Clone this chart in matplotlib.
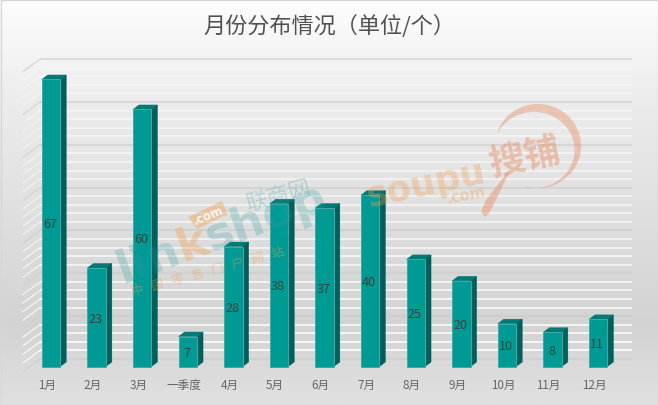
import numpy as np
import matplotlib
matplotlib.use("Agg")
import matplotlib.pyplot as plt
from matplotlib.patches import Polygon, Rectangle
from matplotlib.colors import LinearSegmentedColormap

plt.rcParams['font.family'] = ['Noto Sans CJK SC', 'DejaVu Sans']

categories = ['1月', '2月', '3月', '一季度', '4月', '5月', '6月', '7月', '8月', '9月', '10月', '11月', '12月']
values = [67, 23, 60, 7, 28, 38, 37, 40, 25, 20, 10, 8, 11]
title = '月份分布情况（单位/个）'
major_ticks = [0, 10, 20, 30, 40, 50, 60, 70]
minor_ticks = [v for v in range(2, 70, 2) if v % 10 != 0]

W, H = 658, 406
PX_X = 45.6        # pixels per category
PX_Y = 4.284       # pixels per value unit
X0, Y0 = 51, 367.5 # pixel of first category / value zero
DX, DY = 6 / PX_X, 4.5 / PX_Y      # bar depth in data units
BW = 18.5 / PX_X

fig = plt.figure(figsize=(W / 100, H / 100), dpi=100)

# background
bg = fig.add_axes([0, 0, 1, 1], zorder=0)
bg.set_axis_off()
cmap = LinearSegmentedColormap.from_list('bg', [(0, '#fdfdfd'), (0.25, '#ececec'), (0.80, '#d3d3d3'), (1, '#e0e0e0')])
yy = np.linspace(0, 1, 300)[:, None]
bg.imshow(yy, cmap=cmap, vmin=0, vmax=1, aspect='auto', extent=(0, 1, 1, 0))
bg.set_xlim(0, 1); bg.set_ylim(1, 0)

# chart axes, in data units
ax = fig.add_axes([0, 0, 1, 1], zorder=1)
ax.patch.set_alpha(0)
ax.set_xlim(-X0 / PX_X, (W - X0) / PX_X)
ax.set_ylim(-(H - Y0) / PX_Y, Y0 / PX_Y)
ax.set_axis_off()

# walls
wall_left = (40 - X0) / PX_X
wall_right = (632 - X0) / PX_X
wall_lift = 7.5 / PX_Y
side_left = (23 - X0) / PX_X
side_drop = -5 / PX_Y
for v in minor_ticks:
    a = 0.95 - 0.6 * v / 70
    ax.plot([wall_left, wall_right], [v + wall_lift] * 2, color='white', alpha=a, lw=1.2, zorder=1, solid_capstyle='butt')
    ax.plot([side_left, wall_left], [v + side_drop, v + wall_lift], color='white', alpha=a * .8, lw=1.0, zorder=1)
for v in major_ticks:
    ax.plot([wall_left, wall_right], [v + wall_lift] * 2, color='#cccccc', lw=1.5, alpha=.6, zorder=1.1, solid_capstyle='butt')
    ax.plot([side_left, wall_left], [v + side_drop, v + wall_lift], color='#cfcfcf', lw=1.0, alpha=.7, zorder=1.1)

# bars
x = np.arange(len(values))
ax.bar(x, values, width=BW, color='#009A94', edgecolor='#3FAAA6', linewidth=0.7, zorder=3)
for xi, v in zip(x, values):
    l, r = xi - BW / 2, xi + BW / 2
    ax.fill([l, r, r + DX, l + DX], [v, v, v + DY, v + DY], color='#007A76', lw=0.3, zorder=2.9)
    ax.fill([r, r + DX, r + DX, r], [0, DY, v + DY, v], color='#005F5C', lw=0.3, zorder=2.9)
    ax.text(xi - 1 / PX_X, v / 2 - 0.2, str(v), ha='center', va='center', fontsize=9, color='#404040', zorder=6)

for xi, c in zip(x, categories):
    ax.text(xi - 4 / PX_X, -18 / PX_Y, c, ha='center', va='center', fontsize=8.4, color='#666666', zorder=6)

fig.text(329 / W, 1 - 26.5 / H, title, ha='center', va='center', fontsize=15.9, color='#505050', zorder=8)

# watermarks, in pixel coordinates
wm = fig.add_axes([0, 0, 1, 1], zorder=5)
wm.patch.set_alpha(0)
wm.set_xlim(0, W); wm.set_ylim(H, 0)
wm.set_axis_off()
TEAL, ORANGE, SALMON = '#2E9C9C', '#F0A050', '#E88A60'
ang = np.radians(20)
start = np.array([122.0, 284.0])
step = np.array([np.cos(ang), -np.sin(ang)])
for piece, off, col, al in [('lin', 0, TEAL, .25), ('k', 64, ORANGE, .36), ('shop', 95, TEAL, .25)]:
    p = start + off * step
    wm.text(p[0], p[1], piece, rotation=20, rotation_mode='anchor', ha='left', va='baseline', fontsize=33.5,
            fontweight='bold', color=col, alpha=al, family='DejaVu Sans')
wm.add_patch(Polygon([(188, 218), (222, 202), (228, 215), (197, 230)], closed=True, color=ORANGE, alpha=.42, lw=0, zorder=3))
wm.text(208, 216, '.com', rotation=22, rotation_mode='anchor', ha='center', va='center', fontsize=8.5, fontweight='bold', color='white', alpha=.85, family='DejaVu Sans', zorder=4)
wm.text(278, 196, '联商网', rotation=15, rotation_mode='anchor', ha='center', va='center', fontsize=16, color=TEAL, alpha=.26)
wm.text(208, 272, '中   国   零   售   门   户   网   站', rotation=15, rotation_mode='anchor', ha='center', va='center', fontsize=9, color=ORANGE, alpha=.42)
wm.text(426, 185, 'soupu', rotation=12, rotation_mode='anchor', ha='center', va='center', fontsize=25.5, fontweight='bold', color=ORANGE, alpha=.34, family='DejaVu Sans')
wm.text(466, 195, '.com', rotation=12, rotation_mode='anchor', ha='center', va='center', fontsize=10.5, fontweight='bold', color=ORANGE, alpha=.36, family='DejaVu Sans')
wm.text(525, 158, '搜铺', rotation=12, rotation_mode='anchor', ha='center', va='center', fontsize=26, fontweight='bold', color=SALMON, alpha=.45)
t = np.radians(np.linspace(-155, 105, 120))
outer = np.c_[538 + 43 * np.cos(t), 147 + 42 * np.sin(t)]
inner = np.c_[534 + 40.5 * np.cos(t[::-1]), 151 + 38 * np.sin(t[::-1])]
wm.add_patch(Polygon(np.vstack([outer, inner]), closed=True, color=SALMON, alpha=.42, lw=0))
wm.add_patch(Polygon([(510, 170), (507, 178), (490, 213), (485, 218), (481, 213), (486, 201)], closed=True, color=SALMON, alpha=.45, lw=0))

# outer border
wm.add_patch(Rectangle((0.5, 0.5), W - 1, H - 1, fill=False, ec='#d6d6d6', lw=1))

fig.savefig('out.png', dpi=100)
